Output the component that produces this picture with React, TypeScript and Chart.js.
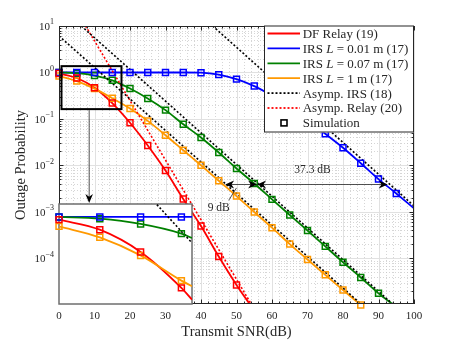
import React, { useEffect, useRef } from 'react';
import { Chart, registerables } from 'chart.js';

Chart.register(...registerables);

const SERIF = '"Liberation Serif", "Times New Roman", serif';
const INK = '#262626';
const RED = '#ff0000';
const BLUE = '#0000ff';
const GREEN = '#008000';
const ORANGE = '#ff9900';

// ---------- main plot data (Transmit SNR in dB, outage probability) ----------
const snrDF = [0, 5, 10, 15, 20, 25, 30, 35, 40, 45, 50, 53.9];
const outDF = [0.95, 0.76, 0.47, 0.22, 0.083, 0.027, 0.0078, 0.0019, 0.0005, 0.00011, 2.7e-5, 1e-5];

const snrIrs001 = [0, 5, 10, 15, 20, 25, 30, 35, 40, 45, 50, 55, 60, 65, 70, 75, 80, 85, 90, 95, 100];
const outIrs001 = [1, 1, 1, 1, 1, 1, 1, 1, 0.99, 0.9, 0.72, 0.51, 0.32, 0.19, 0.097, 0.048, 0.024, 0.0112, 0.0051, 0.0025, 0.0012];

const snrIrs007 = [0, 5, 10, 15, 20, 25, 30, 35, 40, 45, 50, 55, 60, 65, 70, 75, 80, 85, 90, 94.3];
const outIrs007 = [1, 0.965, 0.86, 0.68, 0.454, 0.277, 0.155, 0.077, 0.04, 0.019, 0.0086, 0.0041, 0.00187, 0.00086, 0.0004, 0.000182, 8.3e-5, 3.9e-5, 1.78e-5, 1e-5];

const snrIrs1 = [0, 5, 10, 15, 20, 25, 30, 35, 40, 45, 50, 55, 60, 65, 70, 75, 80, 85];
const outIrs1 = [0.84, 0.655, 0.45, 0.28, 0.168, 0.091, 0.0448, 0.0213, 0.0101, 0.0047, 0.0022, 0.001, 0.00046, 0.000204, 9.5e-5, 4.45e-5, 2.1e-5, 1e-5];

// number of simulated (marker) points on each curve, taken from the start
const simCountDF = 11;
const simCountIrs001 = 20;
const simCountIrs007 = 19;
const simCountIrs1 = 18;

// asymptotes
const asymIrs1Snr = [0, 85.4];
const asymIrs1Out = [6.1, 1e-5];
const asymIrs007Snr = [6.3, 94.3];
const asymIrs007Out = [10, 1e-5];
const asymIrs001Snr = [43.3, 100];
const asymIrs001Out = [10, 0.00135];
const asymRelaySnr = [7.5, 54.3];
const asymRelayOut = [10, 1e-5];

// ---------- inset (zoom of the low-SNR region) ----------
const insetSnr = [0, 5, 10, 15, 16.3];
const insetDF = [0.944, 0.762, 0.474, 0.22, 0.171];
const insetIrs001 = [1, 1, 1, 1, 1];
const insetIrs007 = [1, 0.964, 0.861, 0.7, 0.638];
const insetIrs1 = [0.818, 0.647, 0.44, 0.257, 0.228];
const insetSimCount = 4;
const insetAsymSnr = [12.0, 16.3];
const insetAsymOut = [1.3, 0.574];

// ---------- ticks ----------
const xTickVals = [0, 10, 20, 30, 40, 50, 60, 70, 80, 90, 100];
const yTickExps = [1, 0, -1, -2, -3, -4];

// ---------- annotations (data units) ----------
const zoomBox = { x0: 0.7, x1: 17.6, yTop: 1.37, yBottom: 0.163 };
const zoomArrowX = 8.5;
const gapLevel = 0.0039;
const gap9 = [46.8, 55.8];
const gap37 = [55.8, 92.6];
const label9 = { text: '9 dB', x: 45.0, y: 0.00121 };
const leader9 = [[47.8, 0.00178], [50.0, 0.0033]];
const label37 = { text: '37.3 dB', x: 71.4, y: 0.00807 };

const legendItems = [
  { label: 'DF Relay (19)', color: RED, dash: [] as number[], marker: false },
  { label: 'IRS |L| = 0.01 m (17)', color: BLUE, dash: [], marker: false },
  { label: 'IRS |L| = 0.07 m (17)', color: GREEN, dash: [], marker: false },
  { label: 'IRS |L| = 1 m (17)', color: ORANGE, dash: [], marker: false },
  { label: 'Asymp. IRS (18)', color: '#000', dash: [2, 2], marker: false },
  { label: 'Asymp. Relay (20)', color: RED, dash: [2, 2], marker: false },
  { label: 'Simulation', color: '#000', dash: [], marker: true },
];

const pts = (xs: number[], ys: number[], n?: number) =>
  xs.slice(0, n ?? xs.length).map((x, i) => ({ x, y: ys[i] }));

const curve = (xs: number[], ys: number[], color: string, order: number) => ({
  data: pts(xs, ys),
  borderColor: color,
  borderWidth: 1.8,
  pointRadius: 0,
  cubicInterpolationMode: 'monotone',
  fill: false,
  order,
});
const asym = (xs: number[], ys: number[], color: string) => ({
  data: pts(xs, ys),
  borderColor: color,
  borderWidth: 1.6,
  borderDash: [2, 2],
  pointRadius: 0,
  fill: false,
  order: 1,
});
const sim = (xs: number[], ys: number[], n: number, color: string) => ({
  data: pts(xs, ys, n),
  showLine: false,
  borderColor: color,
  backgroundColor: 'transparent',
  pointStyle: 'rect',
  pointRadius: 4.2,
  pointBorderWidth: 1.5,
  pointBorderColor: color,
  pointBackgroundColor: 'transparent',
  clip: false,
  order: 0,
});

function arrowHead(ctx: CanvasRenderingContext2D, tx: number, ty: number, ang: number, len = 9, hw = 4) {
  const c = Math.cos(ang), s = Math.sin(ang);
  const bx = tx - c * len, by = ty - s * len;
  const nx = tx - c * len * 0.7, ny = ty - s * len * 0.7;
  ctx.beginPath();
  ctx.moveTo(tx, ty);
  ctx.lineTo(bx - s * hw, by + c * hw);
  ctx.lineTo(nx, ny);
  ctx.lineTo(bx + s * hw, by - c * hw);
  ctx.closePath();
  ctx.fill();
}

function drawRich(ctx: CanvasRenderingContext2D, text: string, x: number, y: number, size: number) {
  const parts = text.split('|');
  let cx = x;
  parts.forEach((p, i) => {
    ctx.font = `${i % 2 ? 'italic ' : ''}${size}px ${SERIF}`;
    ctx.fillText(p, cx, y);
    cx += ctx.measureText(p).width;
  });
}

const mainPlugin = {
  id: 'mainDecor',
  beforeDraw(chart: any) {
    const { ctx, width, height } = chart;
    ctx.save();
    ctx.fillStyle = '#fff';
    ctx.fillRect(0, 0, width, height);
    ctx.restore();
  },
  beforeDatasetsDraw(chart: any) {
    const { ctx, chartArea: a, scales } = chart;
    const sx = scales.x, sy = scales.y;
    ctx.save();
    const vline = (px: number) => { ctx.beginPath(); ctx.moveTo(px, a.top); ctx.lineTo(px, a.bottom); ctx.stroke(); };
    const hline = (py: number) => { ctx.beginPath(); ctx.moveTo(a.left, py); ctx.lineTo(a.right, py); ctx.stroke(); };
    // minor grid
    ctx.strokeStyle = '#c4c4c4';
    ctx.lineWidth = 0.7;
    ctx.setLineDash([1, 2]);
    for (let v = 2; v < 100; v += 2) if (v % 10) vline(Math.round(sx.getPixelForValue(v)) + 0.5);
    for (let e = -5; e <= 0; e++) for (let m = 2; m <= 9; m++) {
      const v = m * Math.pow(10, e);
      if (v > sy.min && v < sy.max) hline(Math.round(sy.getPixelForValue(v)) + 0.5);
    }
    // major grid
    ctx.setLineDash([]);
    ctx.strokeStyle = '#e1e1e1';
    ctx.lineWidth = 1;
    xTickVals.forEach((v) => vline(Math.round(sx.getPixelForValue(v)) + 0.5));
    yTickExps.forEach((e) => hline(Math.round(sy.getPixelForValue(Math.pow(10, e))) + 0.5));
    ctx.restore();
  },
  afterDatasetsDraw(chart: any) {
    const { ctx, chartArea: a, scales } = chart;
    const sx = scales.x, sy = scales.y;
    const X = (v: number) => sx.getPixelForValue(v);
    const Y = (v: number) => sy.getPixelForValue(v);
    ctx.save();
    // axes box
    ctx.strokeStyle = INK;
    ctx.lineWidth = 1;
    ctx.strokeRect(a.left + 0.5, a.top + 0.5, a.right - a.left - 1, a.bottom - a.top - 1);
    // ticks
    const tick = (x1: number, y1: number, x2: number, y2: number) => { ctx.beginPath(); ctx.moveTo(x1, y1); ctx.lineTo(x2, y2); ctx.stroke(); };
    for (let v = 0; v <= 100; v += 2) {
      const px = Math.round(X(v)) + 0.5;
      const len = v % 10 ? 2.5 : 4.5;
      tick(px, a.bottom, px, a.bottom - len);
      tick(px, a.top, px, a.top + len);
    }
    for (let e = -5; e <= 1; e++) for (let m = 1; m <= 9; m++) {
      const v = m * Math.pow(10, e);
      if (v < sy.min || v > sy.max) continue;
      const py = Math.round(Y(v)) + 0.5;
      const len = m === 1 ? 4.5 : 2.5;
      tick(a.left, py, a.left + len, py);
      tick(a.right, py, a.right - len, py);
    }
    // tick labels
    ctx.fillStyle = INK;
    ctx.textBaseline = 'middle';
    ctx.textAlign = 'center';
    ctx.font = `11px ${SERIF}`;
    xTickVals.forEach((v) => ctx.fillText(String(v), X(v), a.bottom + 12));
    ctx.textAlign = 'left';
    yTickExps.forEach((e) => {
      const py = Y(Math.pow(10, e));
      const exp = e < 0 ? '\u2212' + -e : String(e);
      ctx.font = `8px ${SERIF}`;
      const ew = ctx.measureText(exp).width;
      ctx.font = `11px ${SERIF}`;
      const bw = ctx.measureText('10').width;
      const right = a.left - 5;
      ctx.fillText('10', right - ew - bw, py + 1);
      ctx.font = `8px ${SERIF}`;
      ctx.fillText(exp, right - ew, py - 4);
    });
    // axis titles
    ctx.textAlign = 'center';
    ctx.font = `14.5px ${SERIF}`;
    ctx.fillText('Transmit SNR(dB)', (a.left + a.right) / 2, a.bottom + 28);
    ctx.save();
    ctx.translate(21.5, (a.top + a.bottom) / 2);
    ctx.rotate(-Math.PI / 2);
    ctx.fillText('Outage Probability', 0, 0);
    ctx.restore();

    // zoom box
    ctx.strokeStyle = '#000';
    ctx.lineWidth = 2;
    ctx.strokeRect(X(zoomBox.x0), Y(zoomBox.yTop), X(zoomBox.x1) - X(zoomBox.x0), Y(zoomBox.yBottom) - Y(zoomBox.yTop));
    // arrow from zoom box down to inset
    const ax = X(zoomArrowX);
    const tipY = 203;
    ctx.strokeStyle = INK;
    ctx.fillStyle = '#000';
    ctx.lineWidth = 0.8;
    ctx.beginPath();
    ctx.moveTo(ax, Y(zoomBox.yBottom) + 1);
    ctx.lineTo(ax, tipY - 5);
    ctx.stroke();
    arrowHead(ctx, ax, tipY, Math.PI / 2, 9, 3.8);

    // gap arrows
    const gy = Y(gapLevel);
    ctx.lineWidth = 0.8;
    ctx.beginPath();
    ctx.moveTo(X(gap9[0]) + 4, gy); ctx.lineTo(X(gap9[1]) - 4, gy);
    ctx.moveTo(X(gap37[0]) + 4, gy); ctx.lineTo(X(gap37[1]) - 4, gy);
    ctx.stroke();
    arrowHead(ctx, X(gap9[0]), gy, Math.PI);
    arrowHead(ctx, X(gap9[1]), gy, 0);
    arrowHead(ctx, X(gap37[0]), gy, Math.PI);
    arrowHead(ctx, X(gap37[1]), gy, 0);
    ctx.beginPath();
    ctx.moveTo(X(leader9[0][0]), Y(leader9[0][1]));
    ctx.lineTo(X(leader9[1][0]), Y(leader9[1][1]));
    ctx.stroke();
    ctx.fillStyle = INK;
    ctx.font = `11.5px ${SERIF}`;
    ctx.textAlign = 'center';
    ctx.fillText(label9.text, X(label9.x), Y(label9.y));
    ctx.fillText(label37.text, X(label37.x), Y(label37.y));

    // legend
    const lw = 150, lh = 107;
    const lx = a.right - lw, ly = a.top - 0.5;
    ctx.fillStyle = '#fff';
    ctx.fillRect(lx, ly, lw, lh);
    ctx.strokeStyle = INK;
    ctx.lineWidth = 1;
    ctx.strokeRect(lx + 0.5, ly + 0.5, lw - 1, lh - 1);
    ctx.textAlign = 'left';
    ctx.textBaseline = 'middle';
    legendItems.forEach((it, i) => {
      const ry = ly + 8 + i * 14.9;
      if (it.marker) {
        ctx.strokeStyle = it.color;
        ctx.lineWidth = 1.6;
        ctx.setLineDash([]);
        ctx.strokeRect(lx + 20 - 3, ry - 3, 6, 6);
      } else {
        ctx.strokeStyle = it.color;
        ctx.lineWidth = 1.8;
        ctx.setLineDash(it.dash);
        ctx.beginPath();
        ctx.moveTo(lx + 3.5, ry);
        ctx.lineTo(lx + 36, ry);
        ctx.stroke();
        ctx.setLineDash([]);
      }
      ctx.fillStyle = INK;
      drawRich(ctx, it.label, lx + 38.7, ry + 1, 13);
    });
    ctx.restore();
  },
};

const insetPlugin = {
  id: 'insetDecor',
  beforeDatasetsDraw(chart: any) {
    const { ctx, chartArea: a } = chart;
    ctx.save();
    ctx.fillStyle = '#fff';
    ctx.fillRect(a.left, a.top, a.right - a.left, a.bottom - a.top);
    ctx.strokeStyle = '#6e6e6e';
    ctx.lineWidth = 1.5;
    ctx.strokeRect(a.left, a.top, a.right - a.left, a.bottom - a.top);
    ctx.restore();
  },
};

export default function App() {
  const mainRef = useRef<HTMLCanvasElement>(null);
  const insetRef = useRef<HTMLCanvasElement>(null);

  useEffect(() => {
    const main = new Chart(mainRef.current as HTMLCanvasElement, {
      type: 'line',
      data: {
        datasets: [
          sim(snrDF, outDF, simCountDF, RED),
          sim(snrIrs001, outIrs001, simCountIrs001, BLUE),
          sim(snrIrs007, outIrs007, simCountIrs007, GREEN),
          sim(snrIrs1, outIrs1, simCountIrs1, ORANGE),
          asym(asymIrs1Snr, asymIrs1Out, '#000'),
          asym(asymIrs007Snr, asymIrs007Out, '#000'),
          asym(asymIrs001Snr, asymIrs001Out, '#000'),
          asym(asymRelaySnr, asymRelayOut, RED),
          curve(snrIrs1, outIrs1, ORANGE, 2),
          curve(snrIrs007, outIrs007, GREEN, 3),
          curve(snrIrs001, outIrs001, BLUE, 4),
          curve(snrDF, outDF, RED, 5),
        ] as any,
      },
      options: {
        responsive: false,
        animation: false,
        devicePixelRatio: 1,
        events: [],
        layout: { padding: { top: 26, right: 43, left: 0, bottom: 0 } },
        plugins: { legend: { display: false }, tooltip: { enabled: false } },
        scales: {
          x: {
            type: 'linear', min: 0, max: 100,
            ticks: { display: false }, grid: { display: false }, border: { display: false },
            afterFit: (s: any) => { s.height = 39; },
          },
          y: {
            type: 'logarithmic', min: 1.05e-5, max: 10,
            ticks: { display: false }, grid: { display: false }, border: { display: false },
            afterFit: (s: any) => { s.width = 59; },
          },
        },
      } as any,
      plugins: [mainPlugin],
    });

    const inset = new Chart(insetRef.current as HTMLCanvasElement, {
      type: 'line',
      data: {
        datasets: [
          sim(insetSnr, insetDF, insetSimCount, RED),
          sim(insetSnr, insetIrs001, insetSimCount, BLUE),
          sim(insetSnr, insetIrs007, insetSimCount, GREEN),
          sim(insetSnr, insetIrs1, insetSimCount, ORANGE),
          asym(insetAsymSnr, insetAsymOut, '#000'),
          curve(insetSnr, insetIrs1, ORANGE, 2),
          curve(insetSnr, insetIrs007, GREEN, 3),
          curve(insetSnr, insetIrs001, BLUE, 4),
          curve(insetSnr, insetDF, RED, 5),
        ] as any,
      },
      options: {
        responsive: false,
        animation: false,
        devicePixelRatio: 1,
        events: [],
        layout: { padding: 6 },
        plugins: { legend: { display: false }, tooltip: { enabled: false } },
        scales: {
          x: { type: 'linear', min: 0, max: 16.3, display: false },
          y: { type: 'logarithmic', min: 0.156, max: 1.318, display: false },
        },
      } as any,
      plugins: [insetPlugin],
    });

    return () => {
      main.destroy();
      inset.destroy();
    };
  }, []);

  return (
    <div style={{ position: 'fixed', left: 0, top: 0, width: 457, height: 343, background: '#fff' }}>
      <canvas ref={mainRef} width={457} height={343}
        style={{ position: 'absolute', left: 0, top: 0, width: 457, height: 343 }} />
      <canvas ref={insetRef} width={145} height={112}
        style={{ position: 'absolute', left: 53, top: 198, width: 145, height: 112 }} />
    </div>
  );
}
